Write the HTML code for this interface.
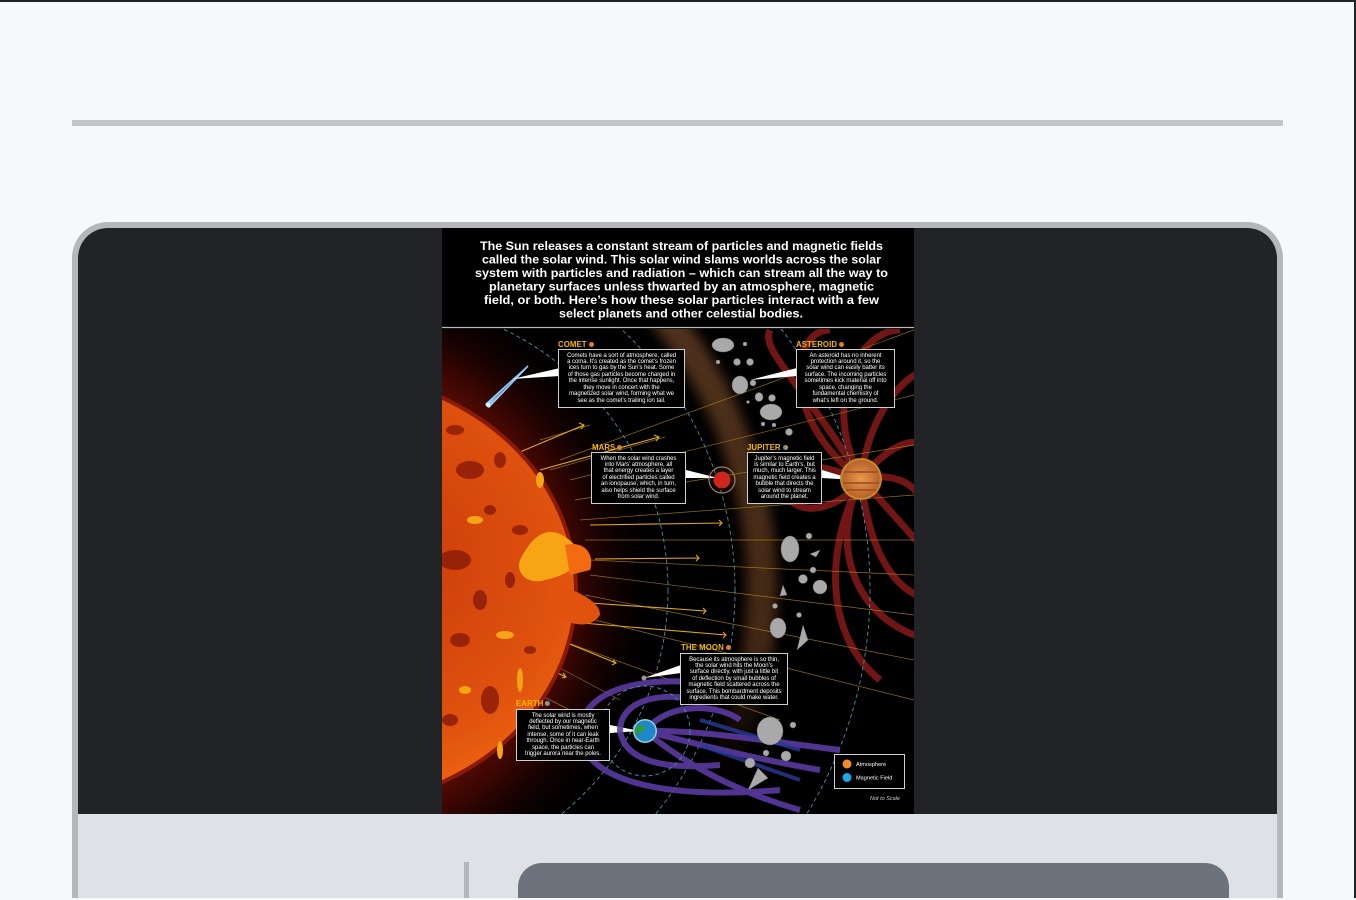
<!DOCTYPE html>
<html><head><meta charset="utf-8">
<style>
*{margin:0;padding:0;box-sizing:border-box}
html,body{width:1356px;height:900px;overflow:hidden;background:#f7f8fa;font-family:"Liberation Sans",sans-serif}
.topbar{position:absolute;left:0;top:0;width:1356px;height:2px;background:#222428}
.rightbar{position:absolute;left:1354px;top:0;width:2px;height:898px;background:#222428}
.hr{position:absolute;left:72px;top:120px;width:1211px;height:6px;background:#c4c5c7}
.frame{position:absolute;left:72px;top:222px;width:1211px;height:676px;border:6px solid #b5b7ba;border-bottom:none;border-radius:36px 36px 0 0;background:#dee1e5;overflow:hidden}
.dark{position:absolute;left:0;top:0;width:1199px;height:586px;background:#212327}
.vbar{position:absolute;left:464px;top:862px;width:5px;height:36px;background:#b3b5b8}
.gbox{position:absolute;left:518px;top:863px;width:711px;height:35px;background:#6c737c;border-radius:24px 24px 0 0}
.box{position:absolute;border:1px solid #cfcfcf;color:#fff;font-size:6px;line-height:6.45px;text-align:center;padding-top:2.5px;background:#000;white-space:nowrap;letter-spacing:-0.05px;overflow:hidden}
.lab{position:absolute;color:#f5b800;font-weight:bold;font-size:7.8px;line-height:9px;letter-spacing:0.1px}
.lab i{display:inline-block;width:5px;height:5px;border-radius:50%;background:#e67e22;margin-left:2px;vertical-align:0}
</style></head><body>
<div class="topbar"></div><div class="rightbar"></div>
<div class="hr"></div>
<div class="frame"><div class="dark"></div></div>
<div class="vbar"></div>
<div class="gbox"></div>

<svg style="position:absolute;left:442px;top:228px;display:block" width="472" height="586" viewBox="442 228 472 586">
<defs>
<radialGradient id="glow" cx="330" cy="590" r="330" gradientUnits="userSpaceOnUse">
<stop offset="0.6" stop-color="#6a0f05"/><stop offset="0.75" stop-color="#3a0602"/><stop offset="1" stop-color="#000" stop-opacity="0"/></radialGradient>
<radialGradient id="sun" cx="380" cy="560" r="260" gradientUnits="userSpaceOnUse">
<stop offset="0" stop-color="#c93a0a"/><stop offset="0.7" stop-color="#e0520e"/><stop offset="1" stop-color="#f26a12"/></radialGradient>
<linearGradient id="com" x1="0" y1="1" x2="1" y2="0"><stop offset="0" stop-color="#bfe6ff"/><stop offset="1" stop-color="#1e5a9a" stop-opacity="0.2"/></linearGradient>
<radialGradient id="jup" cx="0.5" cy="0.5" r="0.5"><stop offset="0" stop-color="#e89a4e"/><stop offset="1" stop-color="#b8622a"/></radialGradient>
<filter id="bl" x="-20%" y="-20%" width="140%" height="140%"><feGaussianBlur stdDeviation="6"/></filter>
<linearGradient id="beltfade" x1="0" y1="330" x2="0" y2="814" gradientUnits="userSpaceOnUse"><stop offset="0" stop-color="#6a4226"/><stop offset="0.65" stop-color="#5a361c"/><stop offset="0.85" stop-color="#3a1e0e" stop-opacity="0.3"/><stop offset="1" stop-color="#000" stop-opacity="0"/></linearGradient>
<clipPath id="c"><rect x="442" y="329" width="472" height="485"/></clipPath>
</defs>
<rect x="442" y="228" width="472" height="586" fill="#000"/>
<line x1="442" y1="327.5" x2="914" y2="327.5" stroke="#b9b9b9" stroke-width="1.2"/>
<g fill="#fff" font-weight="bold" font-size="12.3" text-anchor="start">
<text x="480" y="250" textLength="403" lengthAdjust="spacingAndGlyphs">The Sun releases a constant stream of particles and magnetic fields</text>
<text x="482" y="263.5" textLength="399" lengthAdjust="spacingAndGlyphs">called the solar wind. This solar wind slams worlds across the solar</text>
<text x="475" y="277" textLength="413" lengthAdjust="spacingAndGlyphs">system with particles and radiation – which can stream all the way to</text>
<text x="489" y="290.5" textLength="385" lengthAdjust="spacingAndGlyphs">planetary surfaces unless thwarted by an atmosphere, magnetic</text>
<text x="484" y="304" textLength="395" lengthAdjust="spacingAndGlyphs">field, or both. Here’s how these solar particles interact with a few</text>
<text x="559" y="317.5" textLength="244" lengthAdjust="spacingAndGlyphs">select planets and other celestial bodies.</text>
</g>
<g clip-path="url(#c)">
<circle cx="330" cy="590" r="432" fill="none" stroke="url(#beltfade)" stroke-width="30" opacity="0.75" filter="url(#bl)"/>
<g fill="none" stroke="#7e1818" stroke-width="7" opacity="0.9">
<path d="M861 479 C 780 420, 790 330, 830 330"/>
<path d="M861 479 C 820 400, 860 330, 900 330"/>
<path d="M861 479 C 870 400, 920 360, 940 370"/>
<path d="M861 479 C 900 430, 940 430, 930 480"/>
<path d="M861 479 C 900 470, 930 490, 920 520"/>
<path d="M861 479 C 780 450, 760 470, 790 500 C 810 520, 850 500, 861 479"/>
<path d="M861 479 C 830 540, 850 620, 930 640"/>
<path d="M861 479 C 870 560, 900 600, 940 600"/>
<path d="M861 479 C 900 520, 930 560, 940 560"/>
<path d="M861 479 C 820 560, 830 640, 880 680"/>
<path d="M861 479 C 800 380, 760 350, 770 330"/>
</g>
<ellipse cx="330" cy="590" rx="330" ry="320" fill="url(#glow)"/>
<g stroke="#b58a1a" stroke-width="0.7" opacity="0.8">
<line x1="560" y1="460" x2="914" y2="330"/><line x1="570" y1="480" x2="914" y2="395"/>
<line x1="575" y1="500" x2="914" y2="445"/><line x1="580" y1="520" x2="914" y2="495"/>
<line x1="585" y1="540" x2="914" y2="540"/><line x1="590" y1="560" x2="914" y2="575"/>
<line x1="590" y1="575" x2="914" y2="615"/><line x1="585" y1="595" x2="914" y2="660"/>
<line x1="575" y1="615" x2="914" y2="700"/><line x1="560" y1="640" x2="780" y2="720"/>
<line x1="545" y1="660" x2="620" y2="700"/><line x1="530" y1="690" x2="570" y2="710"/>
<line x1="540" y1="440" x2="590" y2="425"/><line x1="550" y1="470" x2="665" y2="437"/>
</g>
<g stroke="#e3a81e" stroke-width="1.1" fill="none">
<path d="M520 452 L584 425 M579 423 l5 2 -3 4"/>
<path d="M540 470 L659 437 M654 435 l5 2 -3 4"/>
<path d="M595 559 L698 558 M696 555 l3 3 -3 3"/>
<path d="M590 603 L706 611 M703 608 l3 3 -3 3"/>
<path d="M570 622 L726 635 M723 632 l3 3 -3 3"/>
<path d="M560 640 L616 663 M613 660 l3 3 -4 2"/>
<path d="M530 660 L566 677 M563 673 l3 4 -4 1"/>
<path d="M590 525 L722 523 M719 520 l3 3 -3 3"/>
</g>
<g fill="none" stroke="#4c8ea6" stroke-width="0.9" stroke-dasharray="4 3">
<circle cx="379" cy="590" r="289"/>
<circle cx="379" cy="590" r="356"/>
<circle cx="442" cy="590" r="428"/>
</g>
<ellipse cx="330" cy="590" rx="248" ry="218" fill="#8a1a08"/>
<ellipse cx="330" cy="590" rx="244" ry="214" fill="url(#sun)"/>
<g fill="#8a1a08" opacity="0.8">
<ellipse cx="470" cy="470" rx="14" ry="9"/><ellipse cx="455" cy="560" rx="16" ry="10"/>
<ellipse cx="490" cy="700" rx="9" ry="14"/><ellipse cx="520" cy="530" rx="8" ry="5"/>
<ellipse cx="460" cy="640" rx="10" ry="7"/><ellipse cx="500" cy="460" rx="6" ry="8"/>
<ellipse cx="480" cy="600" rx="7" ry="10"/><ellipse cx="450" cy="720" rx="8" ry="6"/>
<ellipse cx="510" cy="580" rx="5" ry="8"/><ellipse cx="455" cy="430" rx="9" ry="5"/>
<ellipse cx="530" cy="650" rx="6" ry="4"/><ellipse cx="490" cy="510" rx="6" ry="5"/>
</g>
<g fill="#f7a514">
<path d="M520 560 C 540 520, 560 530, 575 545 C 590 560, 570 575, 545 580 C 530 585, 515 575, 520 560Z"/>
<ellipse cx="475" cy="520" rx="8" ry="4"/><ellipse cx="505" cy="635" rx="9" ry="4"/>
<ellipse cx="465" cy="690" rx="6" ry="4"/><ellipse cx="520" cy="680" rx="3" ry="12"/>
<ellipse cx="540" cy="480" rx="4" ry="8"/><ellipse cx="500" cy="750" rx="3" ry="9"/>
</g>
<path d="M545 580 C 575 590, 600 600, 600 615 C 590 630, 570 625, 555 615 Z" fill="#e0520e"/>
<path d="M565 545 C 585 540, 595 555, 590 570 L 570 575 Z" fill="#f26a12"/>
<path d="M486 404 L 528 366 L 489 407 Z" fill="url(#com)" stroke="#8fd0ff" stroke-width="1.5" stroke-linecap="round"/>
<circle cx="488" cy="405" r="2.2" fill="#dff3ff"/>
<g fill="#fff">
<path d="M512 379 L560 368 L560 376 Z"/>
<path d="M750 380 L797 368 L797 376 Z"/>
<path d="M686 470 L718 478 L686 478 Z"/>
<path d="M822 470 L855 480 L822 478 Z"/>
<path d="M644 678 L681 665 L681 673 Z"/>
<path d="M610 725 L640 731 L610 733 Z"/>
</g>
<circle cx="722" cy="480" r="13" fill="none" stroke="#a87a5a" stroke-width="1.2"/>
<circle cx="722" cy="480" r="8.5" fill="#d0251c"/>
<circle cx="861" cy="479" r="21" fill="#c58a2a"/>
<circle cx="861" cy="479" r="19" fill="url(#jup)"/>
<g stroke="#a24d20" stroke-width="2" opacity="0.8"><line x1="844" y1="472" x2="878" y2="472"/><line x1="843" y1="483" x2="879" y2="483"/><line x1="846" y1="490" x2="876" y2="490"/></g>
<g fill="none" stroke="#5a3aa0" stroke-width="6" opacity="0.9">
<path d="M740 688 C 640 670, 580 690, 580 735 C 585 780, 660 800, 780 790"/>
<path d="M700 700 C 650 690, 620 705, 620 731 C 625 760, 660 770, 720 765"/>
<path d="M645 731 C 670 700, 720 705, 740 720"/>
<path d="M645 731 C 680 760, 730 790, 800 810"/>
<path d="M645 731 C 680 740, 760 760, 820 770"/>
<path d="M645 731 C 700 730, 760 740, 840 750"/>
</g>
<g fill="none" stroke="#2a3a9a" stroke-width="4" opacity="0.8">
<path d="M700 720 L 800 750"/><path d="M700 745 L 800 780"/>
</g>
<circle cx="645" cy="731" r="12" fill="#8fd0e0"/>
<circle cx="645" cy="731" r="10.5" fill="#1f86c9"/>
<path d="M638 726 c4 -3 8 0 6 4 c-3 4 -6 2 -8 6 c-2 -3 -1 -7 2 -10z" fill="#2e9a3c"/>
<circle cx="644" cy="678" r="2.5" fill="#999"/>
<g fill="none" stroke="#4c8ea6" stroke-width="0.9" stroke-dasharray="4 3"><ellipse cx="645" cy="731" rx="45" ry="45"/></g>
<g fill="#a9a9a9" stroke="#6e6e6e" stroke-width="0.5">
<ellipse cx="723" cy="345" rx="11" ry="7"/><circle cx="745" cy="344" r="2"/><circle cx="718" cy="362" r="2"/>
<circle cx="737" cy="362" r="3.5"/><circle cx="750" cy="362" r="3.5"/><ellipse cx="740" cy="385" rx="8" ry="9"/>
<circle cx="753" cy="383" r="3"/><ellipse cx="759" cy="397" rx="4" ry="4.5"/><circle cx="748" cy="402" r="1.5"/>
<circle cx="772" cy="398" r="3.5"/><ellipse cx="771" cy="412" rx="11" ry="8"/><circle cx="763" cy="424" r="2"/>
<circle cx="774" cy="425" r="2"/><circle cx="789" cy="432" r="3.5"/>
<ellipse cx="790" cy="549" rx="9" ry="13"/><path d="M810 554 l10 -4 -4 7z"/><circle cx="809" cy="536" r="3"/>
<circle cx="803" cy="579" r="4.5"/><circle cx="820" cy="587" r="7"/><path d="M783 585 l4 10 -7 1z"/>
<circle cx="813" cy="570" r="3"/><circle cx="775" cy="606" r="2.5"/><circle cx="799" cy="615" r="2.5"/>
<ellipse cx="778" cy="628" rx="8" ry="10"/><path d="M797 650 l6 -25 5 15z"/>
<ellipse cx="770" cy="731" rx="13" ry="14"/><circle cx="793" cy="725" r="3"/><circle cx="766" cy="753" r="3"/>
<circle cx="786" cy="756" r="5"/><circle cx="750" cy="763" r="5"/><path d="M748 790 l10 -22 10 10z"/>
</g>
</g>
<rect x="834.5" y="754.5" width="70" height="34" fill="#000" stroke="#cfcfcf" stroke-width="1"/>
<circle cx="847" cy="764" r="4.5" fill="#f28c28"/><circle cx="847" cy="777.5" r="4.5" fill="#1ba7e8"/>
<text x="856" y="766" fill="#fff" font-size="5.6">Atmosphere</text>
<text x="856" y="779.5" fill="#fff" font-size="5.6">Magnetic Field</text>
<text x="870" y="800" fill="#ccc" font-size="5.5" font-style="italic">Not to Scale</text>
</svg>

<div class="lab" style="left:558px;top:340px">COMET<i></i></div>
<div class="box" style="left:558px;top:349px;width:127px;height:59px">Comets have a sort of atmosphere, called<br>a coma. It’s created as the comet’s frozen<br>ices turn to gas by the Sun’s heat. Some<br>of those gas particles become charged in<br>the intense sunlight. Once that happens,<br>they move in concert with the<br>magnetized solar wind, forming what we<br>see as the comet’s trailing ion tail.</div>

<div class="lab" style="left:796px;top:340px">ASTEROID<i></i></div>
<div class="box" style="left:796px;top:349px;width:99px;height:59px">An asteroid has no inherent<br>protection around it, so the<br>solar wind can easily batter its<br>surface. The incoming particles<br>sometimes kick material off into<br>space, changing the<br>fundamental chemistry of<br>what’s left on the ground.</div>

<div class="lab" style="left:592px;top:443px">MARS<i></i></div>
<div class="box" style="left:591px;top:452px;width:95px;height:52px">When the solar wind crashes<br>into Mars’ atmosphere, all<br>that energy creates a layer<br>of electrified particles called<br>an ionopause, which, in turn,<br>also helps shield the surface<br>from solar wind.</div>

<div class="lab" style="left:747px;top:443px">JUPITER<i style="background:linear-gradient(90deg,#1ba7e8 50%,#f28c28 50%)"></i></div>
<div class="box" style="left:747px;top:452px;width:75px;height:52px">Jupiter’s magnetic field<br>is similar to Earth’s, but<br>much, much larger. This<br>magnetic field creates a<br>bubble that directs the<br>solar wind to stream<br>around the planet.</div>

<div class="lab" style="left:681px;top:643px">THE MOON<i></i></div>
<div class="box" style="left:680px;top:653px;width:108px;height:52px">Because its atmosphere is so thin,<br>the solar wind hits the Moon’s<br>surface directly, with just a little bit<br>of deflection by small bubbles of<br>magnetic field scattered across the<br>surface. This bombardment deposits<br>ingredients that could make water.</div>

<div class="lab" style="left:516px;top:699px">EARTH<i style="background:linear-gradient(90deg,#f28c28 50%,#1ba7e8 50%)"></i></div>
<div class="box" style="left:516px;top:709px;width:94px;height:52px">The solar wind is mostly<br>deflected by our magnetic<br>field, but sometimes, when<br>intense, some of it can leak<br>through. Once in near-Earth<br>space, the particles can<br>trigger aurora near the poles.</div>
</body></html>
